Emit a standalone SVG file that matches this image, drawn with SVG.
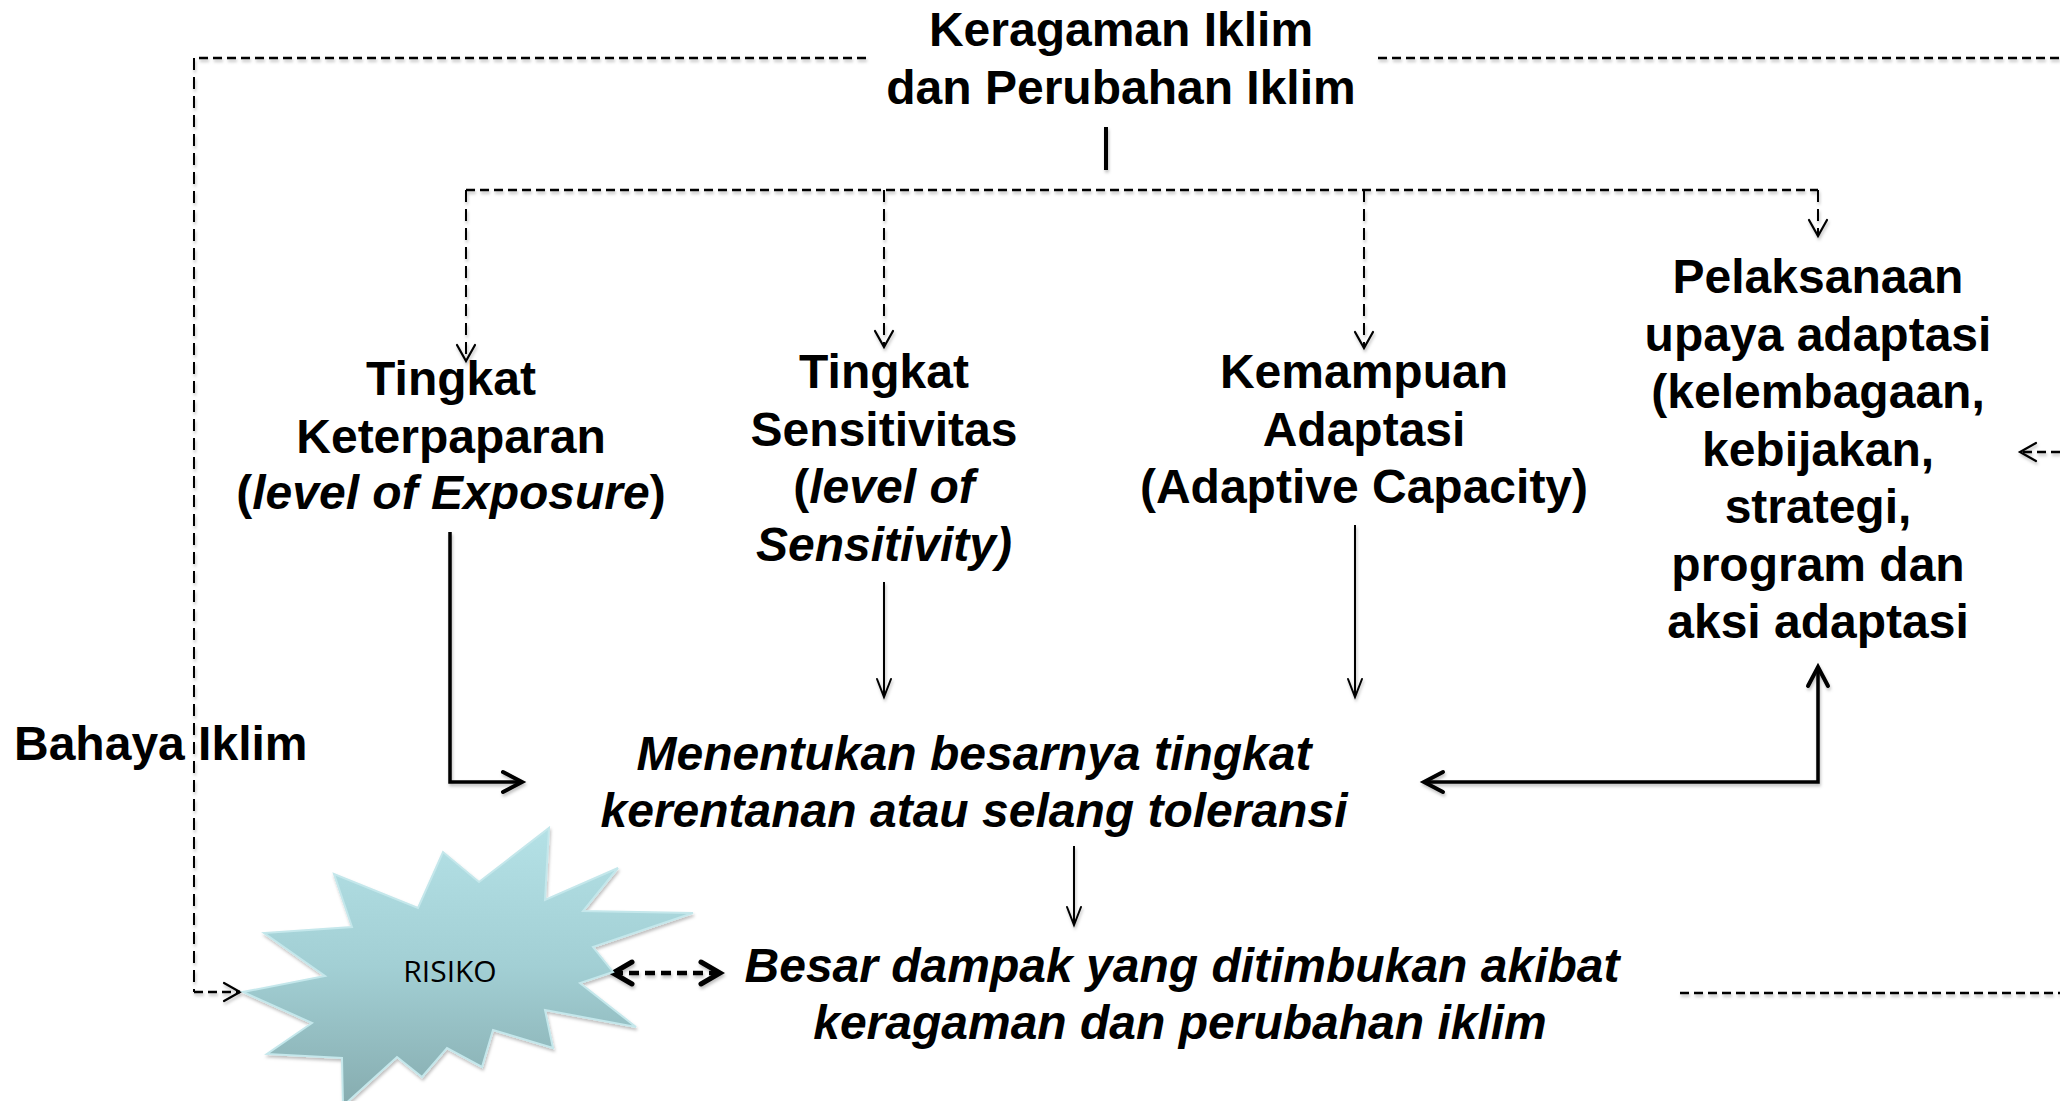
<svg xmlns="http://www.w3.org/2000/svg" width="2060" height="1101" viewBox="0 0 2060 1101">
  <style>
    text { font-family: "Liberation Sans", Arial, sans-serif; font-weight: bold; font-size: 48px; fill: #000; }
    .mid { text-anchor: middle; }
    .it { font-style: italic; }
    .up { font-style: normal; }
    .risk { font-family: "Open Sans", "Noto Sans", sans-serif; font-weight: normal; font-size: 30px; }
    .dh { fill: none; stroke: #000; stroke-width: 2.5; stroke-dasharray: 9 5; }
    .dv { fill: none; stroke: #000; stroke-width: 2; stroke-dasharray: 12 7; }
    .thin { fill: none; stroke: #000; stroke-width: 2; }
    .bold { fill: none; stroke: #000; stroke-width: 3.5; }
    .heavy { fill: none; stroke: #000; stroke-width: 4.5; stroke-dasharray: 10 6; }
    .head { fill: none; stroke: #000; stroke-dasharray: none; stroke-linecap: round; stroke-linejoin: miter; }
  </style>
  <defs>
    <linearGradient id="starFill" x1="0" y1="0" x2="0" y2="1">
      <stop offset="0" stop-color="#b4e1e6"/>
      <stop offset="0.5" stop-color="#a2cfd4"/>
      <stop offset="1" stop-color="#86acaf"/>
    </linearGradient>
    <filter id="shadow" x="-10%" y="-10%" width="120%" height="130%">
      <feDropShadow dx="1" dy="2.5" stdDeviation="1.8" flood-color="#000" flood-opacity="0.25"/>
    </filter>
    <marker id="ahThin" markerUnits="userSpaceOnUse" markerWidth="40" markerHeight="40" refX="0" refY="0" orient="auto" style="overflow:visible">
      <path class="head" d="M-18,-7 L0,0 L-18,7" stroke-width="2"/>
    </marker>
    <marker id="ahDash" markerUnits="userSpaceOnUse" markerWidth="40" markerHeight="40" refX="0" refY="0" orient="auto" style="overflow:visible">
      <path class="head" d="M-16,-9 L0,0 L-16,9" stroke-width="2.2"/>
    </marker>
    <marker id="ahBold" markerUnits="userSpaceOnUse" markerWidth="40" markerHeight="40" refX="0" refY="0" orient="auto-start-reverse" style="overflow:visible">
      <path class="head" d="M-19,-10 L0,0 L-19,10" stroke-width="4"/>
    </marker>
    <marker id="ahHeavy" markerUnits="userSpaceOnUse" markerWidth="40" markerHeight="40" refX="0" refY="0" orient="auto-start-reverse" style="overflow:visible">
      <path class="head" d="M-19,-11 L0,0 L-19,11" stroke-width="5"/>
    </marker>
  </defs>

  <rect x="0" y="0" width="2060" height="1101" fill="#fff"/>

  <!-- connectors -->
  <g id="connectors" filter="url(#shadow)">
    <!-- outer feedback loop on the left, into RISIKO -->
    <line class="dh" x1="866" y1="58" x2="194" y2="58"/>
    <line class="dv" x1="194" y1="58" x2="194" y2="992"/>
    <line class="dh" x1="194" y1="992" x2="240" y2="992" marker-end="url(#ahDash)"/>
    <!-- outer loop on the right -->
    <line class="dh" x1="1378" y1="58" x2="2060" y2="58"/>
    <line class="dh" x1="2060" y1="452" x2="2020" y2="452" marker-end="url(#ahDash)"/>
    <line class="dh" x1="1680" y1="993" x2="2060" y2="993"/>

    <!-- stem below the title -->
    <line x1="1106" y1="127" x2="1106" y2="170" stroke="#000" stroke-width="4"/>

    <!-- distribution bus to the four factors -->
    <line class="dh" x1="466" y1="190" x2="1818" y2="190"/>
    <line class="dv" x1="466" y1="190" x2="466" y2="361" marker-end="url(#ahDash)"/>
    <line class="dv" x1="884" y1="190" x2="884" y2="347" marker-end="url(#ahDash)"/>
    <line class="dv" x1="1364" y1="190" x2="1364" y2="348" marker-end="url(#ahDash)"/>
    <line class="dv" x1="1818" y1="190" x2="1818" y2="236" marker-end="url(#ahDash)"/>

    <!-- factors into the vulnerability statement -->
    <path class="bold" d="M450,532 V782 H522" marker-end="url(#ahBold)"/>
    <line class="thin" x1="884" y1="582" x2="884" y2="697" marker-end="url(#ahThin)"/>
    <line class="thin" x1="1355" y1="525" x2="1355" y2="697" marker-end="url(#ahThin)"/>
    <path class="bold" d="M1424,782 H1818 V667" marker-start="url(#ahBold)" marker-end="url(#ahBold)"/>

    <!-- vulnerability to impact -->
    <line class="thin" x1="1074" y1="846" x2="1074" y2="925" marker-end="url(#ahThin)"/>

    <!-- RISIKO <-> impact -->
    <line class="heavy" x1="613" y1="973" x2="720" y2="973" marker-start="url(#ahHeavy)" marker-end="url(#ahHeavy)"/>
  </g>

  <g id="title">
    <text class="mid" x="1121" y="46">Keragaman Iklim</text>
    <text class="mid" x="1121" y="104">dan Perubahan Iklim</text>
  </g>

  <g id="exposure">
    <text class="mid" x="451" y="395">Tingkat</text>
    <text class="mid" x="451" y="453">Keterpaparan</text>
    <text class="mid" x="451" y="509">(<tspan class="it">level of Exposure</tspan>)</text>
  </g>

  <g id="sensitivity">
    <text class="mid" x="884" y="388">Tingkat</text>
    <text class="mid" x="884" y="446">Sensitivitas</text>
    <text class="mid" x="884" y="503">(<tspan class="it">level of</tspan></text>
    <text class="mid it" x="884" y="561">Sensitivity)</text>
  </g>

  <g id="adaptive-capacity">
    <text class="mid" x="1364" y="388">Kemampuan</text>
    <text class="mid" x="1364" y="446">Adaptasi</text>
    <text class="mid" x="1364" y="503">(Adaptive Capacity)</text>
  </g>

  <g id="adaptation">
    <text class="mid" x="1818" y="293">Pelaksanaan</text>
    <text class="mid" x="1818" y="351">upaya adaptasi</text>
    <text class="mid" x="1818" y="408">(kelembagaan,</text>
    <text class="mid" x="1818" y="466">kebijakan,</text>
    <text class="mid" x="1818" y="523">strategi,</text>
    <text class="mid" x="1818" y="581">program dan</text>
    <text class="mid" x="1818" y="638">aksi adaptasi</text>
  </g>

  <g id="hazard">
    <text x="14" y="760">Bahaya Iklim</text>
  </g>

  <g id="vulnerability">
    <text class="mid it" x="974" y="770">Menentukan besarnya tingkat</text>
    <text class="mid it" x="974" y="827">kerentanan atau selang toleransi</text>
  </g>

  <g id="impact">
    <text class="mid it" x="1182" y="982">Besar dampak yang ditimbukan akibat</text>
    <text class="mid it" x="1180" y="1039">keragaman dan perubahan iklim</text>
  </g>

  <g id="risk">
    <polygon points="549,828 545,900 618,868 583,911 693,913 593,947 613,972 580,983 636,1027 545,1010 553,1048 493,1030 482,1067 447,1048 422,1077 397,1057 343,1106 342,1058 267,1054 312,1023 243,992 325,976 264,933 352,927 334,874 418,908 443,852 479,882"
      fill="url(#starFill)" stroke="#c4e7eb" stroke-width="2" stroke-linejoin="miter" filter="url(#shadow)"/>
    <text class="mid risk" x="450" y="982">RISIKO</text>
  </g>
</svg>
